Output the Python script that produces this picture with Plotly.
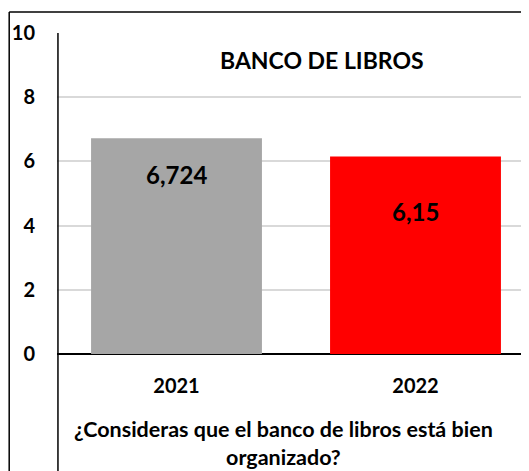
import plotly.graph_objects as go

categories = ["2021", "2022"]
values = [6.724, 6.15]
bar_colors = ["#a6a6a6", "#ff0000"]
y_ticks = [0, 2, 4, 6, 8, 10]
chart_title = "BANCO DE LIBROS"
x_title = "¿Consideras que el banco de libros está bien<br>organizado?"

FONT = "Lato"
labels = [f"{v:g}".replace(".", ",") for v in values]
label_shift = [-36, -55]

fig = go.Figure()
fig.add_trace(go.Bar(
    x=list(range(len(categories))), y=values, marker_color=bar_colors, width=0.715,
    marker_line_width=0, hoverinfo="skip",
))

annotations = []
for i, (v, t, s) in enumerate(zip(values, labels, label_shift)):
    annotations.append(dict(x=i, y=v, xref="x", yref="y", text=f"<b>{t}</b>",
                            showarrow=False, yshift=s, yanchor="middle",
                            font=dict(family=FONT, size=24, color="black")))
annotations.append(dict(x=0.554, y=0.916, xref="paper", yref="paper",
                        text=f"<b>{chart_title}</b>", showarrow=False,
                        xanchor="center", yanchor="middle",
                        font=dict(family=FONT, size=23, color="black")))
annotations.append(dict(x=0.473, y=-0.278, xref="paper", yref="paper",
                        text=f"<b>{x_title}</b>", showarrow=False,
                        xanchor="center", yanchor="middle",
                        font=dict(family=FONT, size=21.5, color="black")))

shapes = [
    # y axis line extending down
    dict(type="line", xref="paper", yref="paper", x0=0.002, x1=0.002, y0=-0.37, y1=1,
         line=dict(color="black", width=1.5)),
    # outer border left
    dict(type="line", xref="paper", yref="paper", x0=-0.1, x1=-0.1, y0=-0.37, y1=1.0654,
         line=dict(color="black", width=1.5)),
    # outer border top
    dict(type="line", xref="paper", yref="paper", x0=-0.1, x1=1.01, y0=1.0654, y1=1.0654,
         line=dict(color="black", width=1.5)),
]

fig.update_layout(
    width=529, height=471,
    margin=dict(l=49, r=2, t=25, b=125),
    paper_bgcolor="white", plot_bgcolor="white",
    showlegend=False,
    annotations=annotations, shapes=shapes,
    font=dict(family=FONT, color="black"),
    xaxis=dict(range=[-0.5, 1.5], tickvals=list(range(len(categories))), ticktext=categories,
               showgrid=False, showline=False,
               zeroline=False, ticks="", ticklabelstandoff=18,
               tickfont=dict(family=FONT, size=20, color="black", weight="bold")),
    yaxis=dict(range=[0, 10], tickvals=y_ticks, showgrid=True, gridcolor="#d9d9d9",
               gridwidth=1.5, zeroline=True, zerolinecolor="black", zerolinewidth=2,
               showline=False, ticks="", ticklabelstandoff=21,
               tickfont=dict(family=FONT, size=20, color="black", weight="bold")),
)

fig.write_html("out.html")
